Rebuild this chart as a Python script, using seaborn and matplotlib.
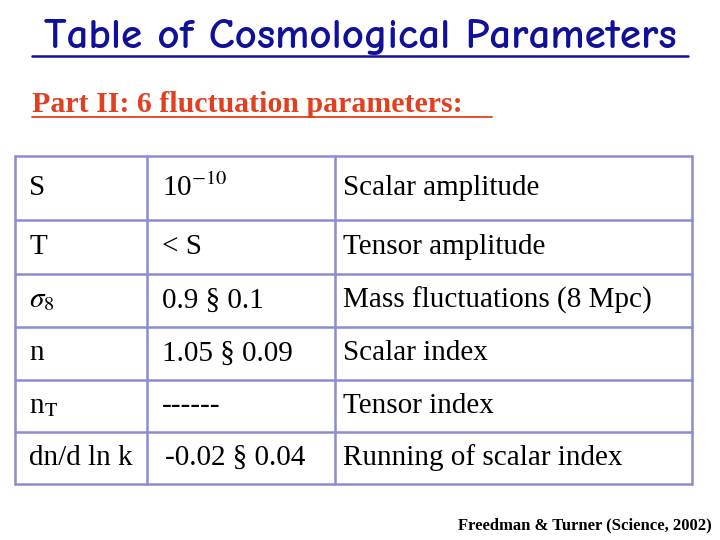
import matplotlib
matplotlib.use("Agg")
import matplotlib.pyplot as plt
import seaborn as sns

sns.set_theme(style="white")
plt.rcParams['font.family'] = ['Liberation Serif', 'DejaVu Serif']
plt.rcParams['mathtext.fontset'] = 'stix'

title = "Table of Cosmological Parameters"
subtitle = "Part II: 6 fluctuation parameters:"
symbols = ["S", "T", r"$\sigma_8$", "n", r"n$_{\rm T}$", "dn/d ln k"]
values = [r"10$^{-10}$", "< S", "0.9 § 0.1", "1.05 § 0.09", "------", "-0.02 § 0.04"]
descriptions = ["Scalar amplitude", "Tensor amplitude", "Mass fluctuations (8 Mpc)",
                "Scalar index", "Tensor index", "Running of scalar index"]
citation = "Freedman & Turner (Science, 2002)"

col_edges = [15, 147, 335, 692]
row_edges = [156, 220, 274, 327, 380, 432, 484]

fig = plt.figure(figsize=(7.2, 5.4), dpi=100)
ax = fig.add_axes([0, 0, 1, 1])
ax.set_xlim(0, 720); ax.set_ylim(540, 0); ax.axis('off')

border = '#8c8cd0'
for x in col_edges:
    ax.plot([x, x], [row_edges[0], row_edges[-1]], color=border, lw=1.8)
for y in row_edges:
    ax.plot([col_edges[0], col_edges[-1]], [y, y], color=border, lw=1.8)

ax.text(360, 37, title, ha='center', va='center', fontsize=31, color='#10109a',
        weight='bold', family=['Comic Neue', 'DejaVu Sans Mono'])
ax.plot([32, 688], [56, 56], color='#10109a', lw=1.8)
ax.text(32, 104, subtitle, ha='left', va='center', fontsize=21.5, color='#e04020', weight='bold')
ax.plot([32, 492], [117, 117], color='#e04020', lw=1.3)

for i in range(len(symbols)):
    yc = (row_edges[i] + row_edges[i + 1]) / 2
    ax.text(29, yc, symbols[i], ha='left', va='center', fontsize=21, color='black')
    ax.text(162 if i < 5 else 165, yc, values[i], ha='left', va='center', fontsize=21, color='black')
    ax.text(343, yc, descriptions[i], ha='left', va='center', fontsize=21, color='black')

ax.text(712, 525, citation, ha='right', va='center', fontsize=12, weight='bold', color='black')
fig.savefig("out.png", dpi=100)
